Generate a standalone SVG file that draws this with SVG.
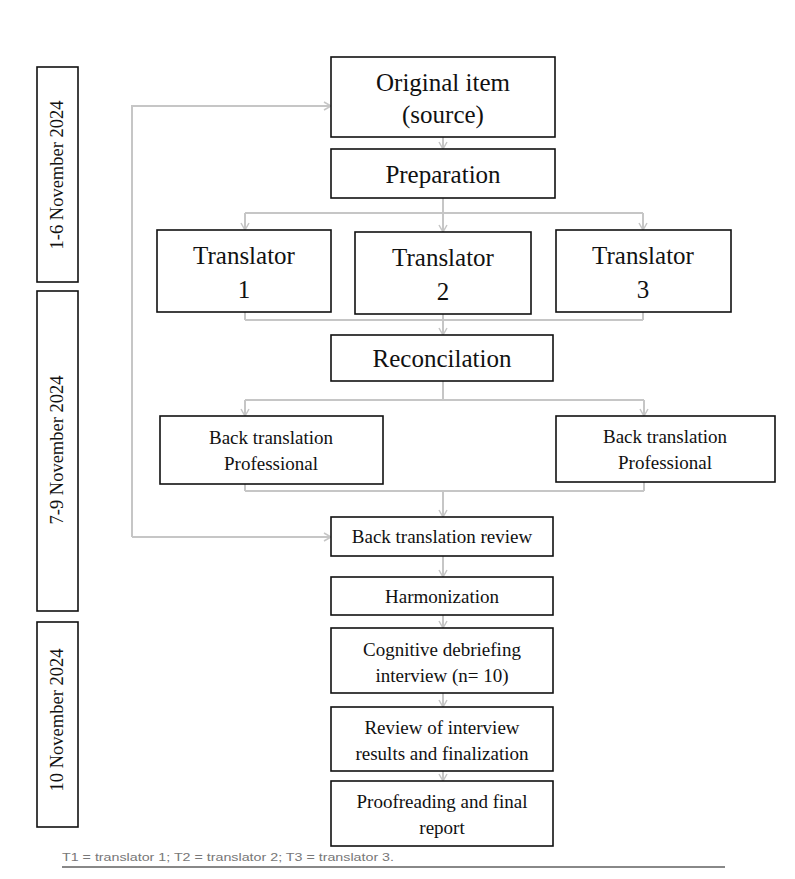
<svg xmlns="http://www.w3.org/2000/svg" width="795" height="879" viewBox="0 0 795 879">
<style>
.box{fill:#fff;stroke:#111;stroke-width:1.6}
.t{font-family:"Liberation Serif","Times New Roman",serif;fill:#111;text-anchor:middle}
.big{font-size:25px}
.sm{font-size:19px}
.date{font-size:18.5px}
.c{fill:none;stroke:#c6c6c6;stroke-width:2}
.a{marker-end:url(#ah)}
</style>
<defs>
<marker id="ah" markerUnits="userSpaceOnUse" markerWidth="12" markerHeight="12" refX="9" refY="5" orient="auto">
<path d="M2,1 L9,5 L2,9" fill="none" stroke="#c6c6c6" stroke-width="1.5"/>
</marker>
</defs>
<rect width="795" height="879" fill="#fff"/>

<g id="dates">
<g id="date1"><rect class="box" x="37" y="67" width="41" height="215"/><text class="t date" transform="translate(63,175) rotate(-90)">1-6  November 2024</text></g>
<g id="date2"><rect class="box" x="37" y="291" width="41" height="320"/><text class="t date" transform="translate(63,450) rotate(-90)">7-9  November 2024</text></g>
<g id="date3"><rect class="box" x="37" y="622" width="41" height="205"/><text class="t date" transform="translate(63,720) rotate(-90)">10 November 2024</text></g>
</g>

<g id="connectors">
<line class="c a" x1="443" y1="137" x2="443" y2="149"/>
<line class="c" x1="443" y1="198" x2="443" y2="213"/>
<line class="c" x1="245" y1="213" x2="643" y2="213"/>
<line class="c a" x1="245" y1="213" x2="245" y2="230"/>
<line class="c a" x1="443" y1="213" x2="443" y2="232"/>
<line class="c a" x1="643" y1="213" x2="643" y2="230"/>
<line class="c" x1="245" y1="312" x2="245" y2="320"/>
<line class="c" x1="443" y1="314" x2="443" y2="320"/>
<line class="c" x1="643" y1="312" x2="643" y2="320"/>
<line class="c" x1="245" y1="320" x2="643" y2="320"/>
<line class="c a" x1="443" y1="320" x2="443" y2="335"/>
<line class="c" x1="443" y1="381" x2="443" y2="400"/>
<line class="c" x1="245" y1="400" x2="644" y2="400"/>
<line class="c a" x1="245" y1="400" x2="245" y2="416"/>
<line class="c a" x1="644" y1="400" x2="644" y2="416"/>
<line class="c" x1="245" y1="484" x2="245" y2="491"/>
<line class="c" x1="644" y1="482" x2="644" y2="491"/>
<line class="c" x1="245" y1="491" x2="644" y2="491"/>
<line class="c a" x1="443" y1="491" x2="443" y2="517"/>
<line class="c a" x1="443" y1="556" x2="443" y2="577"/>
<line class="c a" x1="443" y1="615" x2="443" y2="628"/>
<line class="c a" x1="443" y1="693" x2="443" y2="707"/>
<line class="c a" x1="443" y1="771" x2="443" y2="781"/>
<path class="c a" d="M132,537 H331"/>
<path class="c a" d="M132,537 V106 H331"/>
</g>

<g id="original"><rect class="box" x="331" y="57" width="224" height="80"/><text class="t big" x="443" y="91">Original item</text><text class="t big" x="443" y="123">(source)</text></g>
<g id="preparation"><rect class="box" x="331" y="149" width="224" height="49"/><text class="t big" x="443" y="183">Preparation</text></g>
<g id="translator1"><rect class="box" x="157" y="230" width="174" height="82"/><text class="t big" x="244" y="264">Translator</text><text class="t big" x="244" y="298">1</text></g>
<g id="translator2"><rect class="box" x="355" y="232" width="176" height="82"/><text class="t big" x="443" y="266">Translator</text><text class="t big" x="443" y="300">2</text></g>
<g id="translator3"><rect class="box" x="556" y="230" width="175" height="82"/><text class="t big" x="643" y="264">Translator</text><text class="t big" x="643" y="298">3</text></g>
<g id="reconcilation"><rect class="box" x="331" y="335" width="222" height="46"/><text class="t big" x="442" y="367">Reconcilation</text></g>
<g id="backtrans1"><rect class="box" x="160" y="416" width="223" height="68"/><text class="t sm" x="271" y="444">Back translation</text><text class="t sm" x="271" y="470">Professional</text></g>
<g id="backtrans2"><rect class="box" x="556" y="416" width="219" height="66"/><text class="t sm" x="665" y="443">Back translation</text><text class="t sm" x="665" y="469">Professional</text></g>
<g id="review"><rect class="box" x="331" y="517" width="222" height="39"/><text class="t sm" x="442" y="543">Back translation review</text></g>
<g id="harmonization"><rect class="box" x="331" y="577" width="222" height="38"/><text class="t sm" x="442" y="603">Harmonization</text></g>
<g id="cognitive"><rect class="box" x="331" y="628" width="222" height="65"/><text class="t sm" x="442" y="656">Cognitive debriefing</text><text class="t sm" x="442" y="682">interview (n= 10)</text></g>
<g id="reviewresults"><rect class="box" x="331" y="707" width="222" height="64"/><text class="t sm" x="442" y="734">Review of interview</text><text class="t sm" x="442" y="760">results and finalization</text></g>
<g id="proofreading"><rect class="box" x="331" y="781" width="222" height="65"/><text class="t sm" x="442" y="808">Proofreading and final</text><text class="t sm" x="442" y="834">report</text></g>

<g id="footnote">
<text x="62" y="861" font-family="Liberation Sans, Arial, sans-serif" font-size="11" fill="#777" textLength="332" lengthAdjust="spacingAndGlyphs">T1 = translator 1; T2 = translator 2; T3 = translator 3.</text>
<line x1="62" y1="867" x2="725" y2="867" stroke="#888" stroke-width="2"/>
</g>
</svg>
